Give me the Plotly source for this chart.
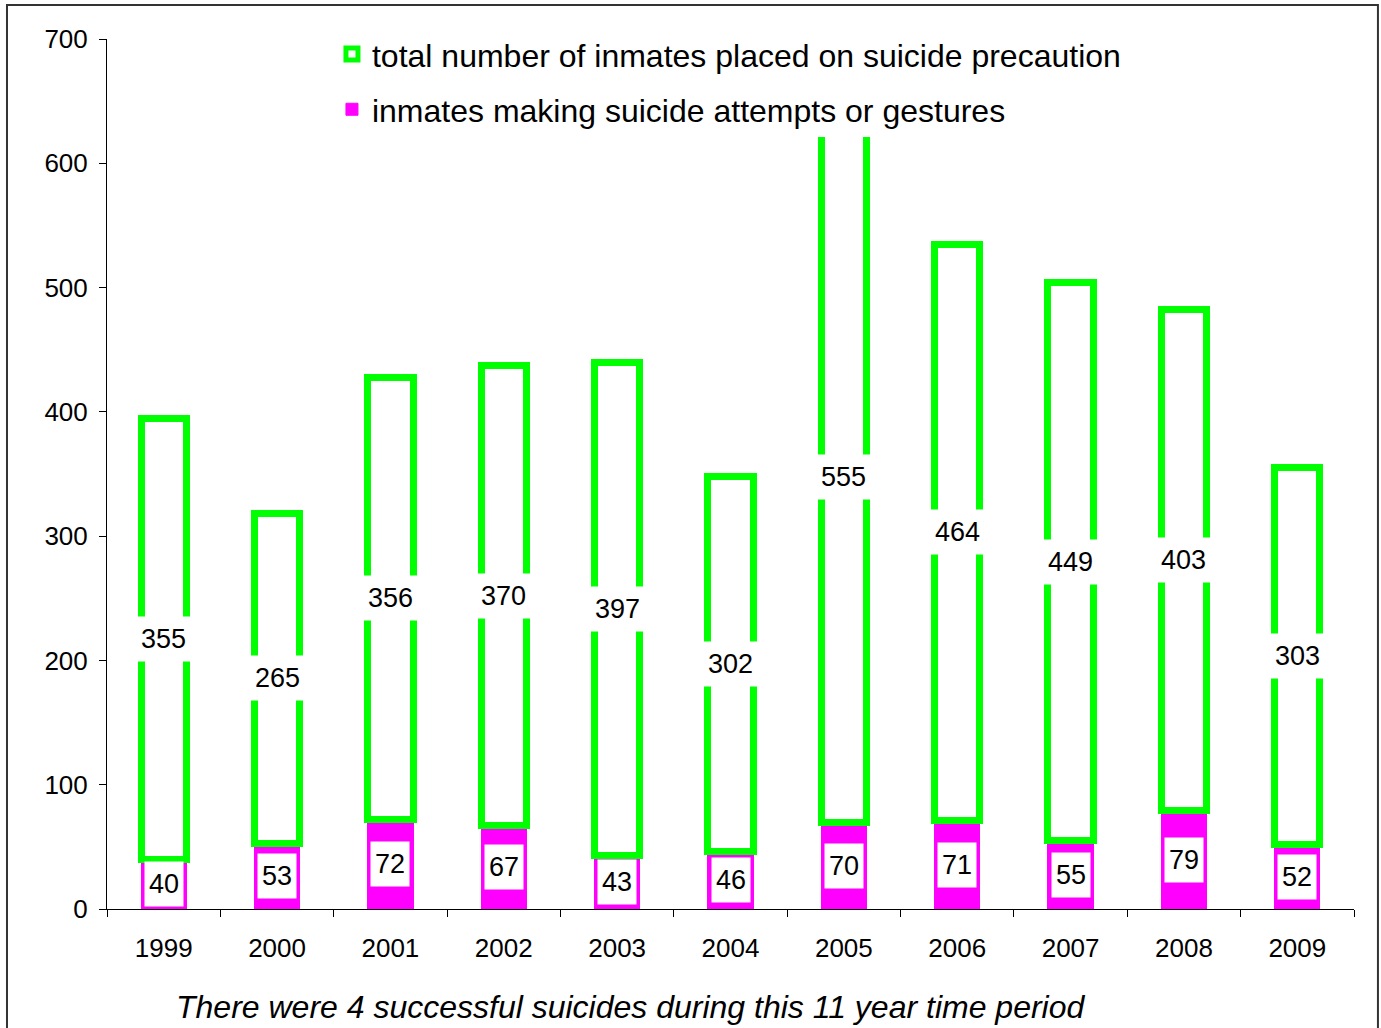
import plotly.graph_objects as go

years = ["1999", "2000", "2001", "2002", "2003", "2004", "2005", "2006", "2007", "2008", "2009"]
attempts = [40, 53, 72, 67, 43, 46, 70, 71, 55, 79, 52]
precaution = [355, 265, 356, 370, 397, 302, 555, 464, 449, 403, 303]

name_attempts = "inmates making suicide attempts or gestures"
name_precaution = "total number of inmates placed on suicide precaution"
footer = "There were 4 successful suicides during this 11 year time period"

GREEN = "#00FF00"
MAGENTA = "#FF00FF"
FONT = "Liberation Sans, Arial, sans-serif"

fig = go.Figure()
fig.add_trace(go.Bar(
    x=years, y=attempts, name=name_attempts, legend="legend2",
    marker=dict(color=MAGENTA, line=dict(color=MAGENTA, width=1)),
    width=0.4,
))
fig.add_trace(go.Bar(
    x=years, y=precaution, base=attempts, name=name_precaution, legend="legend",
    marker=dict(color="white", line=dict(color=GREEN, width=7)),
    width=0.4,
))

annotations = []
for i, (a, p) in enumerate(zip(attempts, precaution)):
    annotations.append(dict(x=i, y=a / 2, text=str(a), showarrow=False,
                            bgcolor="white", borderpad=4, height=36,
                            font=dict(size=27, color="black", family=FONT)))
    annotations.append(dict(x=i, y=a + p / 2, text=str(p), showarrow=False,
                            bgcolor="white", borderpad=4, height=36,
                            font=dict(size=27, color="black", family=FONT)))
annotations.append(dict(xref="paper", yref="paper", x=0.42, y=-0.113,
                        text="<i>" + footer + "</i>", showarrow=False,
                        xanchor="center", yanchor="middle",
                        font=dict(size=32, color="black", family=FONT)))

legend_common = dict(xanchor="left", yanchor="top", bgcolor="white",
                     font=dict(size=32, family=FONT, color="black"),
                     itemwidth=30)

fig.update_layout(
    barmode="stack",
    width=1381, height=1028,
    margin=dict(l=107, r=27, t=39, b=119),
    paper_bgcolor="white", plot_bgcolor="white",
    font=dict(family=FONT, color="black", size=26),
    showlegend=True,
    legend=dict(x=0.1804, y=1.014, **legend_common),
    legend2=dict(x=0.1804, y=0.9506, **legend_common),
    annotations=annotations,
    shapes=[dict(type="rect", xref="paper", yref="paper",
                 x0=-0.0802, x1=1.0192, y0=-0.2, y1=1.0391,
                 line=dict(color="#333333", width=2), layer="above")],
)
fig.update_xaxes(
    type="category", showline=True, linecolor="black", linewidth=1,
    ticks="outside", tickson="boundaries", ticklen=7, tickcolor="black",
    showgrid=False, tickfont=dict(size=26), ticklabelstandoff=16,
)
fig.update_yaxes(
    range=[0, 700], dtick=100, showline=True, linecolor="black", linewidth=1,
    ticks="outside", ticklen=7, tickcolor="black", showgrid=False,
    zeroline=False, tickfont=dict(size=26), ticklabelstandoff=6,
)

fig.write_html("out.html", config={"displayModeBar": False},
               post_script="document.body.style.margin='0px';")
